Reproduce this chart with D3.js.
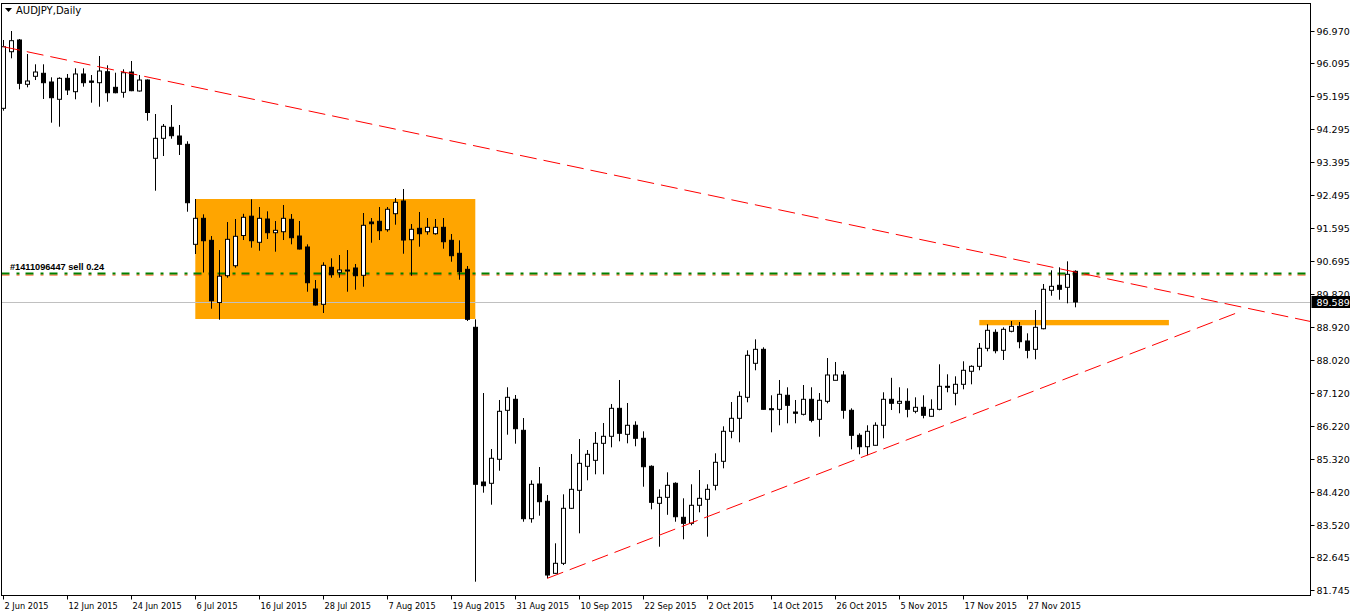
<!DOCTYPE html>
<html>
<head>
<meta charset="UTF-8">
<title>AUDJPY, Daily</title>
<script src="https://d3js.org/d3.v7.min.js"></script>
<style>
  body { margin: 0; background: #fff; }
  svg { display: block; font-family: "DejaVu Sans", sans-serif; }
</style>
</head>
<body>
<div id="chart"></div>
<script>
// daily bars, 2 Jun 2015 .. 7 Dec 2015
const opens = [94.864, 96.406, 96.725, 95.518, 95.736, 95.818, 95.581, 95.110, 95.681, 95.317,
  95.799, 95.608, 95.562, 95.861, 95.436, 95.300, 95.853, 95.336, 95.635, 93.503,
  94.047, 94.347, 94.110, 93.884, 91.160, 91.868, 91.269, 89.575, 90.305, 90.577,
  91.400, 91.926, 91.215, 91.849, 91.476, 91.503, 91.841, 91.386, 91.087, 89.943,
  89.526, 90.534, 90.398, 90.460, 90.515, 90.316, 91.768, 91.787, 91.558, 91.994,
  92.340, 91.286, 91.596, 91.503, 91.449, 91.623, 91.269, 90.915, 90.479, 88.900,
  84.686, 84.651, 85.305, 86.639, 86.939, 86.094, 83.687, 84.632, 84.161, 82.199,
  82.472, 83.970, 84.460, 85.114, 85.277, 85.740, 85.931, 86.693, 85.985, 86.231,
  85.877, 85.114, 84.106, 84.269, 84.651, 83.725, 83.561, 84.052, 84.215, 84.596,
  85.250, 86.067, 86.421, 86.993, 87.919, 88.300, 86.683, 86.666, 87.048, 86.593,
  86.530, 86.939, 86.394, 86.884, 87.456, 87.601, 86.639, 85.958, 85.648, 85.686,
  86.231, 86.939, 86.830, 86.884, 86.612, 86.721, 86.476, 86.666, 87.293, 87.102,
  87.347, 87.702, 87.837, 88.328, 88.763, 88.273, 88.791, 88.927, 88.527, 88.300,
  88.861, 89.908, 90.044, 89.989, 90.425];
const highs = [96.725, 96.970, 96.752, 96.343, 96.063, 96.063, 95.709, 95.709, 95.799, 95.954,
  95.954, 95.771, 96.289, 96.036, 95.834, 95.927, 96.153, 95.771, 95.650, 94.709,
  94.437, 94.954, 94.410, 93.966, 92.394, 91.977, 91.386, 91.004, 91.767, 91.849,
  91.991, 92.386, 92.176, 92.059, 91.795, 92.231, 91.985, 91.795, 91.160, 90.188,
  90.670, 90.779, 90.869, 91.004, 90.624, 92.013, 91.877, 92.176, 92.176, 92.421,
  92.667, 91.713, 92.040, 91.877, 91.849, 91.877, 91.441, 91.269, 90.569, 89.117,
  87.110, 85.585, 86.920, 87.266, 87.056, 86.429, 84.733, 85.095, 84.332, 83.017,
  84.351, 85.449, 85.857, 85.558, 86.048, 86.293, 86.811, 87.465, 86.838, 86.339,
  86.067, 85.141, 84.487, 84.950, 84.678, 84.242, 84.624, 85.013, 84.624, 85.468,
  86.203, 86.865, 87.156, 88.273, 88.572, 88.355, 87.048, 87.465, 87.266, 86.920,
  87.328, 87.266, 87.110, 88.063, 87.955, 87.710, 86.693, 86.013, 86.231, 86.312,
  87.130, 87.524, 87.266, 87.238, 86.993, 87.048, 86.939, 87.892, 87.620, 87.565,
  87.974, 87.865, 88.472, 88.981, 88.845, 88.900, 89.071, 89.044, 88.736, 89.371,
  90.079, 90.452, 90.534, 90.697, 90.452];
const lows = [94.800, 96.226, 95.382, 95.436, 95.635, 95.118, 94.472, 94.363, 95.227, 95.110,
  95.453, 95.017, 94.908, 95.044, 95.273, 95.153, 95.330, 95.320, 94.527, 92.620,
  93.565, 94.036, 93.593, 92.048, 90.896, 90.392, 89.406, 89.107, 90.251, 90.523,
  91.277, 91.068, 90.986, 91.305, 90.959, 91.277, 91.160, 91.020, 89.869, 89.490,
  89.289, 90.251, 90.251, 89.869, 89.924, 90.005, 91.204, 91.277, 91.503, 91.694,
  90.904, 90.305, 91.095, 91.422, 91.422, 91.041, 90.686, 90.196, 89.071, 81.971,
  84.395, 84.068, 84.994, 85.975, 85.730, 83.605, 83.578, 83.769, 82.063, 82.180,
  82.425, 83.950, 83.289, 84.733, 84.896, 84.896, 85.631, 85.795, 85.740, 85.659,
  84.558, 83.943, 82.924, 83.793, 83.605, 83.126, 83.507, 83.861, 83.197, 84.460,
  85.059, 85.877, 85.768, 86.857, 87.729, 86.660, 86.040, 86.231, 86.285, 86.285,
  86.500, 86.312, 85.920, 86.830, 87.456, 86.410, 85.577, 85.441, 85.414, 85.680,
  85.877, 86.647, 86.558, 86.448, 86.558, 86.421, 86.470, 86.639, 87.130, 86.775,
  87.211, 87.347, 87.729, 88.246, 88.191, 88.010, 88.763, 88.328, 88.055, 88.028,
  88.845, 89.760, 89.651, 89.553, 89.444];
const closes = [96.542, 96.706, 95.545, 95.608, 95.853, 95.562, 95.153, 95.681, 95.363, 95.799,
  95.562, 95.573, 95.880, 95.289, 95.289, 95.834, 95.344, 95.635, 94.750, 94.047,
  94.374, 94.118, 93.884, 92.293, 91.868, 91.258, 89.624, 90.292, 91.296, 91.378,
  91.896, 91.258, 91.868, 91.476, 91.541, 91.868, 91.340, 91.032, 90.114, 89.507,
  90.588, 90.332, 90.460, 90.452, 90.305, 91.678, 91.721, 91.531, 92.114, 92.304,
  91.277, 91.569, 91.449, 91.623, 91.623, 91.231, 90.850, 90.414, 89.117, 84.624,
  84.586, 85.332, 86.612, 86.993, 86.138, 83.687, 84.624, 84.150, 82.153, 82.472,
  83.970, 84.487, 85.195, 85.441, 85.740, 85.931, 86.693, 86.013, 86.231, 85.877,
  85.103, 84.133, 84.269, 84.596, 83.741, 83.561, 84.052, 84.242, 84.487, 85.223,
  86.067, 86.421, 87.020, 88.137, 88.300, 86.666, 86.674, 87.075, 86.775, 86.558,
  86.939, 86.367, 86.912, 87.601, 87.601, 86.639, 85.958, 85.648, 86.067, 86.231,
  86.939, 86.830, 86.884, 86.666, 86.721, 86.503, 86.666, 87.293, 87.285, 87.347,
  87.729, 87.837, 88.328, 88.818, 88.262, 88.845, 88.927, 88.508, 88.273, 88.900,
  89.935, 90.016, 89.935, 90.343, 89.589];

const priceTicks = [96.970, 96.095, 95.195, 94.295, 93.395, 92.495, 91.595, 90.695, 89.820,
  88.920, 88.020, 87.120, 86.220, 85.320, 84.420, 83.520, 82.645, 81.745];
const dateTickBars = [0, 8, 16, 24, 32, 40, 48, 56, 64, 72, 80, 88, 96, 104, 112, 120, 128];
const dateTickLabels = ["2 Jun 2015", "12 Jun 2015", "24 Jun 2015", "6 Jul 2015", "16 Jul 2015",
  "28 Jul 2015", "7 Aug 2015", "19 Aug 2015", "31 Aug 2015", "10 Sep 2015", "22 Sep 2015",
  "2 Oct 2015", "14 Oct 2015", "26 Oct 2015", "5 Nov 2015", "17 Nov 2015", "27 Nov 2015"];

// drawn objects (bar index, price)
const boxBars = [24, 59], boxPrices = [92.394, 89.126];
const zoneBars = [122, 145.7], zonePrices = [89.100, 88.955];
const upperTrend = [[0, 96.542], [163.4, 89.058]];
const lowerTrend = [[68, 82.063], [154.6, 89.327]];
const orderPrice = 90.392;
const bidPrice = 89.589;

const W = 1350, H = 613;
const pLeft = 1.5, pRight = 1310.5, pTop = 3.5, pBottom = 595.5;

const svg = d3.select("#chart").append("svg")
  .attr("width", W).attr("height", H);

const x = d3.scaleLinear().domain([0, 134]).range([3.3, 1075.3]);
const y = d3.scaleLinear().domain([81.745, 96.970]).range([590, 31]);

svg.append("clipPath").attr("id", "plot")
  .append("rect").attr("x", pLeft + 0.5).attr("y", pTop + 0.5)
  .attr("width", pRight - pLeft - 1).attr("height", pBottom - pTop - 1);

const g = svg.append("g").attr("clip-path", "url(#plot)");

// orange rectangles
g.append("rect")
  .attr("x", x(boxBars[0])).attr("y", y(boxPrices[0]))
  .attr("width", x(boxBars[1]) - x(boxBars[0]))
  .attr("height", y(boxPrices[1]) - y(boxPrices[0]))
  .attr("fill", "#ffa500");
g.append("rect")
  .attr("x", x(zoneBars[0])).attr("y", y(zonePrices[0]))
  .attr("width", x(zoneBars[1]) - x(zoneBars[0]))
  .attr("height", y(zonePrices[1]) - y(zonePrices[0]))
  .attr("fill", "#ffa500");

// bid line
g.append("line")
  .attr("x1", pLeft).attr("x2", pRight)
  .attr("y1", Math.round(y(bidPrice)) + 0.5).attr("y2", Math.round(y(bidPrice)) + 0.5)
  .attr("stroke", "#c0c0c0").attr("stroke-width", 1);

// order line: green dash-dot with an orange-red twin underneath
const oy = Math.round(y(orderPrice));
g.append("line")
  .attr("x1", pLeft).attr("x2", pRight).attr("y1", oy + 2).attr("y2", oy + 2)
  .attr("stroke", "#ff4500").attr("stroke-width", 1)
  .attr("stroke-dasharray", "8,7,3,6");
g.append("line")
  .attr("x1", pLeft).attr("x2", pRight).attr("y1", oy + 0.5).attr("y2", oy + 0.5)
  .attr("stroke", "#008000").attr("stroke-width", 2)
  .attr("stroke-dasharray", "8,7,3,6");

// candles
const idx = d3.range(opens.length);
g.selectAll("line.wick").data(idx).enter().append("line")
  .attr("class", "wick")
  .attr("x1", i => Math.round(x(i)) + 0.5).attr("x2", i => Math.round(x(i)) + 0.5)
  .attr("y1", i => y(highs[i])).attr("y2", i => y(lows[i]))
  .attr("stroke", "#000").attr("stroke-width", 1);

g.selectAll("rect.body").data(idx).enter().append("rect")
  .attr("class", "body")
  .attr("x", i => Math.round(x(i)) - 1.5)
  .attr("y", i => y(Math.max(opens[i], closes[i])))
  .attr("width", 4)
  .attr("height", i => Math.max(1, Math.abs(y(opens[i]) - y(closes[i]))))
  .attr("fill", i => closes[i] >= opens[i] ? "#fff" : "#000")
  .attr("stroke", "#000").attr("stroke-width", 1);

// trend lines
[upperTrend, lowerTrend].forEach(t => {
  g.append("line")
    .attr("x1", x(t[0][0])).attr("y1", y(t[0][1]))
    .attr("x2", x(t[1][0])).attr("y2", y(t[1][1]))
    .attr("stroke", "#ff0000").attr("stroke-width", 1)
    .attr("stroke-dasharray", "17,7");
});

// order label
g.append("text")
  .attr("x", 10).attr("y", oy - 3)
  .attr("font-family", "'Liberation Sans', Arial, sans-serif")
  .attr("font-size", 9.2).attr("font-weight", "bold")
  .text("#1411096447 sell 0.24");

// frame
svg.append("rect")
  .attr("x", pLeft).attr("y", pTop)
  .attr("width", pRight - pLeft).attr("height", pBottom - pTop)
  .attr("fill", "none").attr("stroke", "#000");

// title
svg.append("path").attr("d", "M5,8 L12,8 L8.5,12 Z").attr("fill", "#000");
svg.append("text").attr("x", 16).attr("y", 14)
  .attr("font-size", 10).attr("fill", "#000").text("AUDJPY,Daily");

// price axis
const ya = svg.append("g");
priceTicks.forEach(p => {
  const yy = Math.round(y(p)) + 0.5;
  ya.append("line").attr("x1", pRight).attr("x2", pRight + 4)
    .attr("y1", yy).attr("y2", yy).attr("stroke", "#000");
  ya.append("text").attr("x", pRight + 6).attr("y", yy + 3.5)
    .attr("font-size", 9.5).text(p.toFixed(3));
});
const by = Math.round(y(bidPrice));
ya.append("rect").attr("x", pRight + 1).attr("y", by - 6)
  .attr("width", 39).attr("height", 12).attr("fill", "#000");
ya.append("text").attr("x", pRight + 6).attr("y", by + 3.5)
  .attr("font-size", 9.5).attr("fill", "#fff").text(bidPrice.toFixed(3));

// date axis
const xa = svg.append("g");
dateTickBars.forEach((b, k) => {
  const xx = Math.round(x(b)) + 0.5;
  xa.append("line").attr("x1", xx).attr("x2", xx)
    .attr("y1", pBottom).attr("y2", pBottom + 4).attr("stroke", "#000");
  xa.append("text").attr("x", xx + 1).attr("y", 609)
    .attr("font-size", 8.2).text(dateTickLabels[k]);
});
</script>
</body>
</html>
